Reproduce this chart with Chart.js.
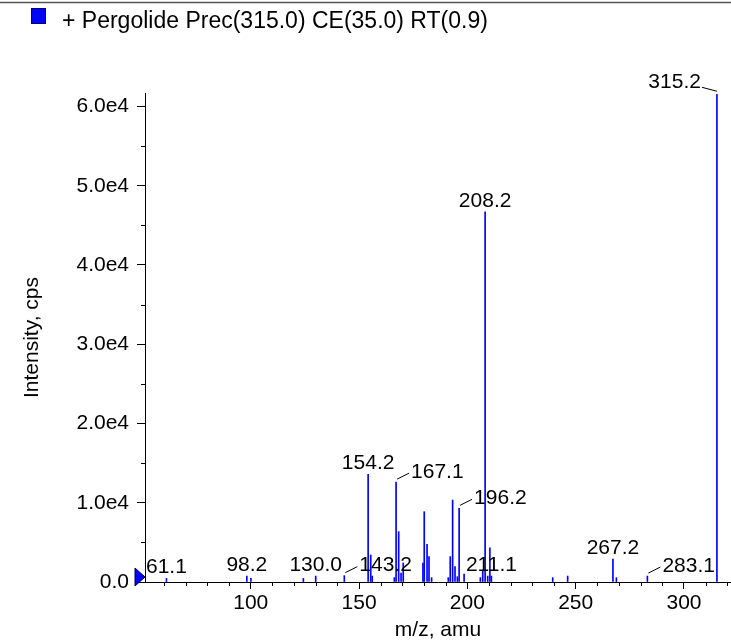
<!DOCTYPE html>
<html>
<head>
<meta charset="utf-8">
<script src="https://cdn.jsdelivr.net/npm/chart.js@4/dist/chart.umd.min.js"></script>
<style>
  html, body { margin: 0; padding: 0; background: #fff; }
  #wrap { position: relative; width: 731px; height: 644px; }
</style>
</head>
<body>
<div id="wrap"><canvas id="spectrum"></canvas></div>
<script>
// peak list (m/z, counts per second)
const mzValues = [61.1, 98.2, 100.1, 124.3, 130.0, 143.2, 154.2, 155.4, 156.1, 166.3,
    167.1, 168.3, 169.4, 170.4, 179.5, 180.1, 181.4, 182.3, 183.5, 191.2,
    192.1, 193.2, 194.3, 195.4, 196.2, 198.5, 206.0, 207.1, 208.2, 209.4,
    210.4, 211.1, 239.4, 246.3, 267.2, 268.8, 283.1, 315.2];
const intensities = [450, 750, 450, 450, 750, 800, 13600, 3400, 750, 550,
    12600, 6350, 1130, 2400, 2400, 8870, 4750, 3200, 550, 550,
    3200, 10340, 1930, 670, 9300, 1000, 550, 1500, 46700, 750,
    4300, 750, 550, 750, 2900, 550, 750, 61540];

const peakLabels = ['61.1', '98.2', '130.0', '143.2', '154.2', '167.1', '196.2',
    '208.2', '211.1', '267.2', '283.1', '315.2'];
const xTickValues = [100, 150, 200, 250, 300];
const yTickValues = [0, 10000, 20000, 30000, 40000, 50000, 60000];
const seriesName = '+ Pergolide Prec(315.0) CE(35.0) RT(0.9)';

// labels that sit beside their peak with a short leader line
const leaderSide = { '143.2': 'right', '167.1': 'right', '196.2': 'right', '283.1': 'right', '315.2': 'left' };

const FONT = 'Liberation Sans, Arial, sans-serif';
Chart.defaults.font.family = FONT;
Chart.defaults.color = '#000';

const spectrumDecor = {
    id: 'spectrumDecor',
    afterDraw(chart) {
        const ctx = chart.ctx;
        const xs = chart.scales.x;
        const ys = chart.scales.y;
        const area = chart.chartArea;
        ctx.save();

        // frame line along the top
        ctx.strokeStyle = '#555';
        ctx.lineWidth = 1.5;
        ctx.beginPath();
        ctx.moveTo(0, 2.5);
        ctx.lineTo(chart.width, 2.5);
        ctx.stroke();

        // legend
        ctx.fillStyle = '#0000ff';
        ctx.fillRect(31.5, 8.5, 14, 15);
        ctx.strokeStyle = '#00007a';
        ctx.lineWidth = 1;
        ctx.strokeRect(31.5, 8.5, 14, 15);
        ctx.fillStyle = '#000';
        ctx.font = '23px ' + FONT;
        ctx.textAlign = 'left';
        ctx.textBaseline = 'alphabetic';
        ctx.fillText(seriesName, 62, 28);

        // minor ticks
        ctx.strokeStyle = '#000';
        ctx.lineWidth = 1;
        ctx.beginPath();
        for (let v = 60; v <= xs.max; v += 10) {
            if (v % 50 === 0) continue;
            const px = Math.round(xs.getPixelForValue(v)) + 0.5;
            ctx.moveTo(px, area.bottom);
            ctx.lineTo(px, area.bottom + 4);
        }
        for (let v = 5000; v <= ys.max; v += 10000) {
            const py = Math.round(ys.getPixelForValue(v)) + 0.5;
            ctx.moveTo(area.left, py);
            ctx.lineTo(area.left - 4, py);
        }
        ctx.stroke();

        // marker at the origin of the intensity axis
        const y0 = ys.getPixelForValue(0) - 5;
        ctx.fillStyle = '#0000ff';
        ctx.strokeStyle = '#000050';
        ctx.beginPath();
        ctx.moveTo(area.left, y0);
        ctx.lineTo(area.left - 10, y0 - 9);
        ctx.lineTo(area.left - 10, y0 + 9);
        ctx.closePath();
        ctx.fill();
        ctx.stroke();

        // peak annotations
        ctx.font = '21px ' + FONT;
        ctx.fillStyle = '#000';
        ctx.strokeStyle = '#000';
        for (const text of peakLabels) {
            const mz = parseFloat(text);
            let best = 0;
            mzValues.forEach((m, i) => {
                if (Math.abs(m - mz) < Math.abs(mzValues[best] - mz)) best = i;
            });
            const px = xs.getPixelForValue(mzValues[best]);
            const py = ys.getPixelForValue(intensities[best]);
            const side = leaderSide[text];
            if (side === 'right') {
                ctx.beginPath();
                ctx.moveTo(px + 1, py - 3);
                ctx.lineTo(px + 13, py - 9);
                ctx.stroke();
                ctx.textAlign = 'left';
                ctx.fillText(text, px + 15, py - 4.5);
            } else if (side === 'left') {
                ctx.beginPath();
                ctx.moveTo(px, py - 3);
                ctx.lineTo(px - 15, py - 7);
                ctx.stroke();
                ctx.textAlign = 'right';
                ctx.fillText(text, px - 16, py - 6.5);
            } else {
                ctx.textAlign = 'center';
                ctx.fillText(text, px, py - 5);
            }
        }
        ctx.restore();
    }
};

new Chart(document.getElementById('spectrum'), {
    type: 'bar',
    data: {
        datasets: [{
            label: seriesName,
            data: mzValues.map((m, i) => ({ x: m, y: intensities[i] })),
            backgroundColor: '#0000ff',
            borderWidth: 0,
            barThickness: 1,
            grouped: false
        }]
    },
    options: {
        responsive: true,
        maintainAspectRatio: false,
        animation: false,
        layout: { padding: { top: 93, left: 0, right: 0, bottom: 0 } },
        plugins: {
            legend: { display: false },
            tooltip: { enabled: false }
        },
        scales: {
            x: {
                type: 'linear',
                offset: false,
                min: 51.2,
                max: 321.7,
                afterBuildTicks: s => { s.ticks = xTickValues.map(v => ({ value: v })); },
                afterFit: s => { s.height = 62; },
                ticks: { font: { size: 21 }, padding: 2, maxRotation: 0, color: '#000' },
                grid: { drawOnChartArea: false, offset: false, tickLength: 7, color: '#000' },
                border: { display: true, color: '#000', width: 1 },
                title: { display: true, text: 'm/z, amu', font: { size: 21 }, padding: { top: 0, bottom: 1.4 }, color: '#000' }
            },
            y: {
                min: 0,
                max: 61700,
                afterBuildTicks: s => { s.ticks = yTickValues.map(v => ({ value: v })); },
                afterFit: s => { s.width = 145; },
                ticks: {
                    font: { size: 21 },
                    padding: 8,
                    color: '#000',
                    callback: v => v === 0 ? '0.0' : (v / 10000).toFixed(1) + 'e4'
                },
                grid: { drawOnChartArea: false, tickLength: 8, color: '#000' },
                border: { display: true, color: '#000', width: 1 },
                title: { display: true, text: 'Intensity, cps', font: { size: 21 }, padding: { top: 19.4, bottom: 0 }, color: '#000' }
            }
        }
    },
    plugins: [spectrumDecor]
});
</script>
</body>
</html>
